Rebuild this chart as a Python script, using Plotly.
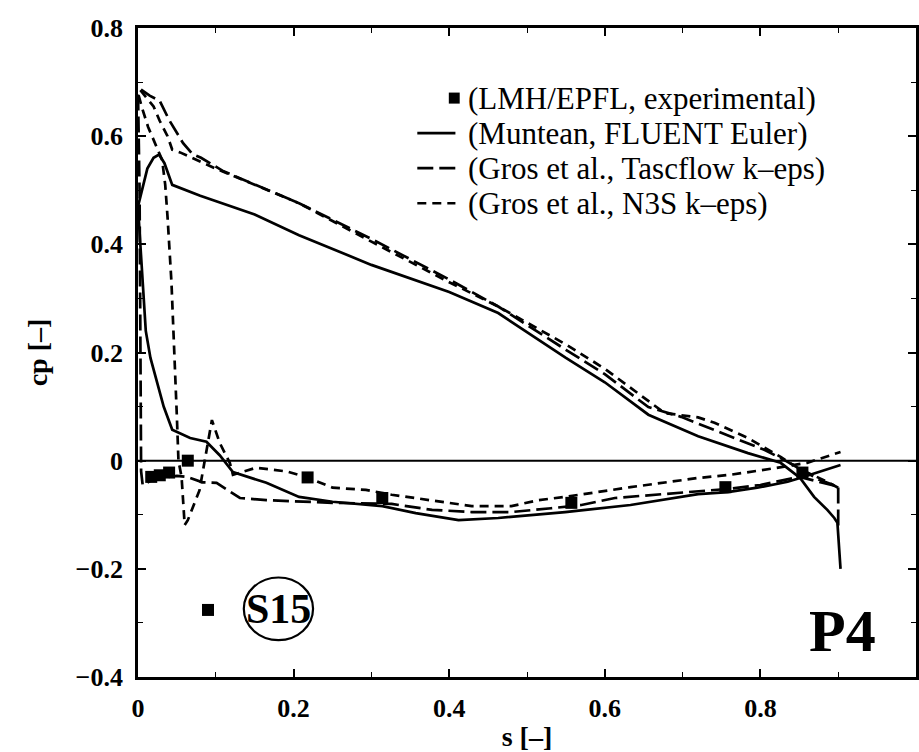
import plotly.graph_objects as go

# ---- measured pressure coefficient along the blade (LMH/EPFL) ----
exp_s = [0.017, 0.028, 0.040, 0.064, 0.090, 0.218, 0.314, 0.557, 0.755, 0.854]
exp_cp = [-0.030, -0.027, -0.022, 0.000, -0.276, -0.031, -0.069, -0.078, -0.049, -0.022]

# ---- Muntean, FLUENT Euler ----
fluent_upper_s = [0.0, 0.005, 0.012, 0.020, 0.027, 0.034, 0.044, 0.080, 0.150, 0.207, 0.300,
                  0.400, 0.463, 0.550, 0.600, 0.656, 0.720, 0.784, 0.826, 0.851, 0.869,
                  0.886, 0.895, 0.899, 0.903]
fluent_upper_cp = [0.47, 0.50, 0.54, 0.56, 0.566, 0.55, 0.51, 0.49, 0.455, 0.417, 0.362,
                   0.312, 0.273, 0.19, 0.145, 0.085, 0.045, 0.014, -0.004, -0.032, -0.067,
                   -0.091, -0.106, -0.115, -0.20]
fluent_lower_s = [0.0, 0.003, 0.006, 0.010, 0.016, 0.024, 0.033, 0.044, 0.067, 0.088, 0.105,
                  0.122, 0.165, 0.207, 0.250, 0.314, 0.357, 0.412, 0.463, 0.549, 0.633,
                  0.720, 0.758, 0.796, 0.835, 0.851, 0.903]
fluent_lower_cp = [0.47, 0.40, 0.33, 0.24, 0.19, 0.149, 0.10, 0.057, 0.042, 0.035, 0.010,
                   -0.021, -0.041, -0.067, -0.076, -0.084, -0.097, -0.110, -0.106, -0.095, -0.082,
                   -0.062, -0.058, -0.050, -0.039, -0.032, -0.008]

# ---- Gros et al., Tascflow k-eps ----
tasc_upper_s = [0.0, 0.005, 0.015, 0.028, 0.040, 0.058, 0.070, 0.081, 0.110, 0.150, 0.207,
                0.300, 0.400, 0.463, 0.550, 0.600, 0.656, 0.698, 0.762, 0.805, 0.831,
                0.850, 0.875, 0.900, 0.900]
tasc_upper_cp = [0.68, 0.685, 0.675, 0.665, 0.63, 0.587, 0.567, 0.56, 0.535, 0.51, 0.476,
                 0.41, 0.335, 0.285, 0.205, 0.16, 0.099, 0.081, 0.044, 0.020, 0.001,
                 -0.015, -0.035, -0.048, -0.12]
tasc_lower_s = [0.0, 0.002, 0.003, 0.004, 0.006, 0.015, 0.030, 0.050, 0.063, 0.083, 0.101,
                0.122, 0.131, 0.165, 0.207, 0.250, 0.326, 0.378, 0.429, 0.480, 0.531,
                0.570, 0.613, 0.656, 0.720, 0.760, 0.800, 0.850, 0.900]
tasc_lower_cp = [0.68, 0.50, 0.20, -0.02, -0.045, -0.038, -0.032, -0.028, -0.030, -0.040, -0.041,
                 -0.060, -0.069, -0.073, -0.076, -0.078, -0.080, -0.091, -0.095, -0.095, -0.088,
                 -0.082, -0.069, -0.064, -0.056, -0.052, -0.045, -0.030, -0.048]

# ---- Gros et al., N3S k-eps ----
n3s_upper_s = [0.0, 0.003, 0.006, 0.020, 0.028, 0.038, 0.044, 0.054, 0.100, 0.150, 0.207,
               0.300, 0.400, 0.463, 0.550, 0.600, 0.677, 0.720, 0.741, 0.784, 0.826,
               0.850, 0.880, 0.900]
n3s_upper_cp = [0.68, 0.685, 0.68, 0.655, 0.628, 0.60, 0.575, 0.57, 0.54, 0.51, 0.476,
                0.405, 0.33, 0.285, 0.215, 0.17, 0.088, 0.080, 0.070, 0.042, 0.007,
                -0.015, -0.035, -0.050]
n3s_lower_s = [0.0, 0.005, 0.013, 0.022, 0.031, 0.035, 0.038, 0.043, 0.047, 0.050, 0.052,
               0.056, 0.060, 0.064, 0.079, 0.092, 0.095, 0.105, 0.118, 0.122, 0.152,
               0.191, 0.216, 0.250, 0.293, 0.326, 0.378, 0.429, 0.480, 0.515, 0.549,
               0.591, 0.633, 0.720, 0.762, 0.818, 0.860, 0.903]
n3s_lower_cp = [0.68, 0.653, 0.617, 0.588, 0.556, 0.51, 0.45, 0.33, 0.20, 0.08, 0.0,
                -0.03, -0.119, -0.11, -0.055, 0.051, 0.075, 0.033, -0.004, -0.026, -0.013,
                -0.020, -0.030, -0.050, -0.054, -0.063, -0.073, -0.084, -0.084, -0.073, -0.067,
                -0.058, -0.049, -0.032, -0.026, -0.014, -0.004, 0.016]

legend_labels = ["(LMH/EPFL, experimental)", "(Muntean, FLUENT Euler)",
                 "(Gros et al., Tascflow k\u2013eps)", "(Gros et al., N3S k\u2013eps)"]

SERIF = "Liberation Serif"
LW = 2.7
DASH_TASC = "16px,6px"
DASH_N3S = "9px,6px"

fig = go.Figure()

fig.add_trace(go.Scatter(
    x=exp_s, y=exp_cp, mode="markers", name=legend_labels[0],
    marker=dict(symbol="square", size=12, color="black"),
))

def add_curve(s_up, cp_up, s_lo, cp_lo, name, dash):
    # join both sides of the blade into one polyline through the leading edge
    xs = list(reversed(s_up)) + s_lo
    ys = list(reversed(cp_up)) + cp_lo
    fig.add_trace(go.Scatter(
        x=xs, y=ys, mode="lines", name=name,
        line=dict(color="black", width=LW, dash=dash),
    ))

add_curve(fluent_upper_s, fluent_upper_cp, fluent_lower_s, fluent_lower_cp,
          legend_labels[1], "solid")
add_curve(tasc_upper_s, tasc_upper_cp, tasc_lower_s, tasc_lower_cp,
          legend_labels[2], DASH_TASC)
add_curve(n3s_upper_s, n3s_upper_cp, n3s_lower_s, n3s_lower_cp,
          legend_labels[3], DASH_N3S)

# horizontal reference line at cp = 0
fig.add_shape(type="line", xref="x", yref="y", x0=0, x1=1, y0=0, y1=0,
              line=dict(color="black", width=2))

# compact key, drawn in paper coordinates
row_y = [0.892, 0.838, 0.784, 0.730]
key_x0, key_x1, text_x = 0.359, 0.408, 0.4215
fig.add_shape(type="rect", xref="paper", yref="paper",
              x0=0.3995, x1=0.4135, y0=row_y[0] - 0.0085, y1=row_y[0] + 0.0085,
              line=dict(width=0), fillcolor="black")
for yy, dash in zip(row_y[1:], ["solid", DASH_TASC, DASH_N3S]):
    fig.add_shape(type="line", xref="paper", yref="paper",
                  x0=key_x0, x1=key_x1, y0=yy, y1=yy,
                  line=dict(color="black", width=LW, dash=dash))
for yy, label in zip(row_y, legend_labels):
    fig.add_annotation(x=text_x, y=yy, xref="paper", yref="paper", text=label,
                       xanchor="left", yanchor="middle", showarrow=False,
                       font=dict(family=SERIF, size=31, color="black"))

# blade / position labels
fig.add_shape(type="circle", xref="x", yref="y", x0=0.136, x1=0.225, y0=-0.332, y1=-0.216,
              line=dict(color="black", width=2.2))
fig.add_annotation(x=0.1805, y=-0.274, xref="x", yref="y", text="<b>S15</b>", showarrow=False,
                   font=dict(family=SERIF, size=42, color="black"))
fig.add_annotation(x=0.906, y=-0.315, xref="x", yref="y", text="<b>P4</b>", showarrow=False,
                   font=dict(family=SERIF, size=60, color="black"))

axis_common = dict(
    showline=True, linecolor="black", linewidth=2.8, mirror="ticks",
    ticks="inside", ticklen=8, tickwidth=1.5, tickcolor="black",
    showgrid=False, zeroline=False,
    tickfont=dict(family=SERIF, size=26, color="black", weight="bold"),
    minor=dict(ticks="inside", ticklen=5, tickwidth=1.2, tickcolor="black", dtick=0.1),
)

fig.update_xaxes(range=[0, 1], dtick=0.2, tick0=0, ticklabelstandoff=6,
                 title=dict(text="s [\u2013]", standoff=8,
                            font=dict(family=SERIF, size=28, color="black", weight="bold")),
                 **axis_common)
fig.update_yaxes(range=[-0.4, 0.8], dtick=0.2, tick0=0, ticklabelstandoff=7,
                 title=dict(text="cp [\u2013]", standoff=20,
                            font=dict(family=SERIF, size=28, color="black", weight="bold")),
                 **axis_common)

fig.update_layout(
    width=919, height=752,
    margin=dict(l=138, r=0, t=28, b=75),
    paper_bgcolor="white", plot_bgcolor="white",
    showlegend=False,
)

fig.write_html("out.html")
